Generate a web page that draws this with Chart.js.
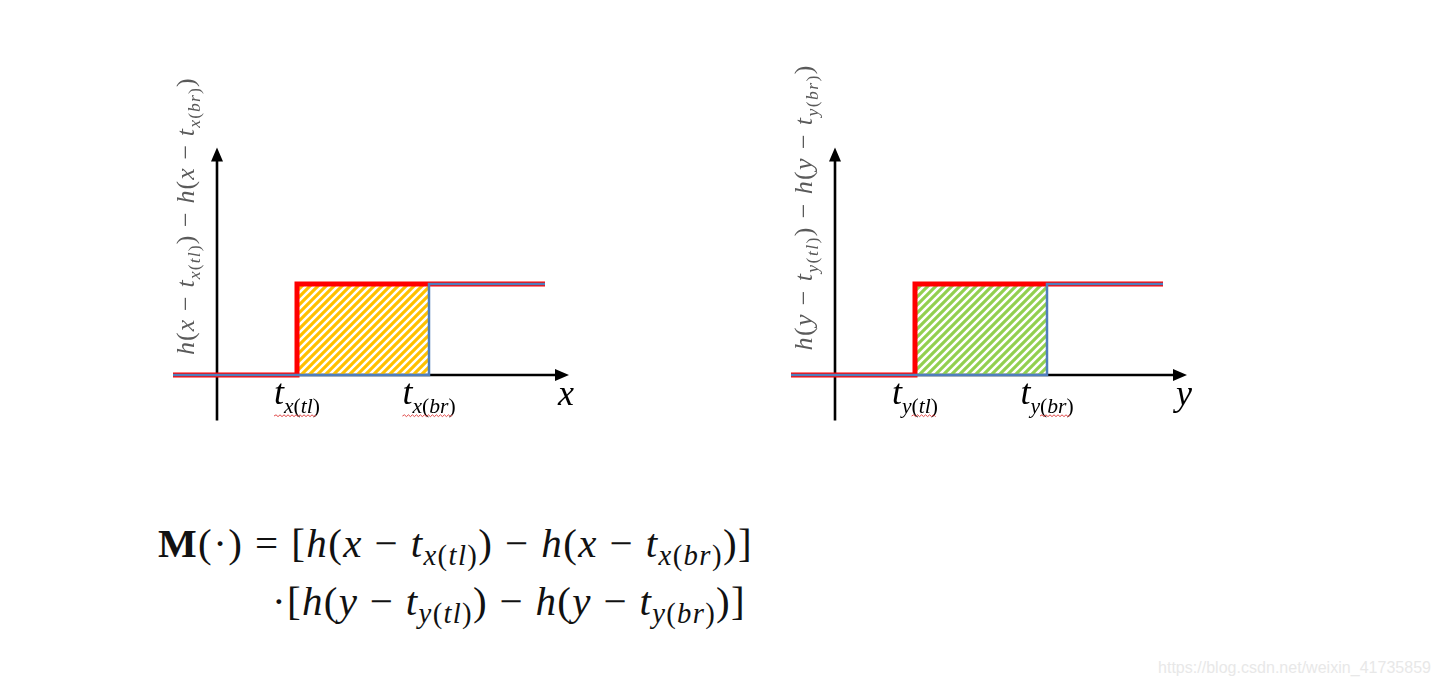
<!DOCTYPE html>
<html>
<head>
<meta charset="utf-8">
<script src="https://cdn.jsdelivr.net/npm/chart.js@4.4.1/dist/chart.umd.min.js"></script>
<style>
  html, body { margin: 0; padding: 0; background: #fff; }
  body { width: 1440px; height: 689px; overflow: hidden; position: relative; }
  canvas.step { position: absolute; top: 60px; }
  #chartX { left: 160px; }
  #chartY { left: 778px; }
  .formula { position: absolute; font-family: "Liberation Serif", "Times New Roman", serif; color: #111; white-space: nowrap; line-height: 1; font-size: 41px; }
  .formula i { font-style: italic; }
  .formula b { font-weight: bold; }
  .formula sub { font-size: 0.7em; vertical-align: -0.28em; line-height: 0; }
  #wm { position: absolute; font-family: "Liberation Sans", Arial, sans-serif; font-size: 16px; line-height: 1; color: #e8e8e8; white-space: nowrap; }
</style>
</head>
<body>
<canvas id="chartX" class="step" width="440" height="380"></canvas>
<canvas id="chartY" class="step" width="440" height="380"></canvas>

<div class="formula" id="line1"><b>M</b>(·) = [<i>h</i>(<i>x</i> − <i>t</i><sub><i>x</i>(<i>tl</i>)</sub>) − <i>h</i>(<i>x</i> − <i>t</i><sub><i>x</i>(<i>br</i>)</sub>)]</div>
<div class="formula" id="line2">·[<i>h</i>(<i>y</i> − <i>t</i><sub><i>y</i>(<i>tl</i>)</sub>) − <i>h</i>(<i>y</i> − <i>t</i><sub><i>y</i>(<i>br</i>)</sub>)]</div>
<div id="wm">https://blog.csdn.net/weixin_41735859</div>

<script>
// step positions (axis origin = 0, one unit = 40px)
const xStart = -1.1;
const xEnd = 8.2;
const tlValue = 2.0;
const brValue = 5.3;

const stepLevels = [0, 1, 1];
const redX = [xStart, tlValue, xEnd];
const blueX = [xStart, brValue, xEnd];
const hatchX = [tlValue, brValue];
const hatchY = [1, 1];

const axisXRange = [-1.1, 8.8];
const axisYRange = [-0.5, 2.5];

const tickValues = [tlValue, brValue];
const tickLabelsX = ['t_{x(tl)}', 't_{x(br)}'];
const tickLabelsY = ['t_{y(tl)}', 't_{y(br)}'];

const titleX = 'h(x − t_{x(tl)}) − h(x − t_{x(br)})';
const titleY = 'h(y − t_{y(tl)}) − h(y − t_{y(br)})';

const RED = '#ff0000';
const BLUE = '#4f7fbd';
const SERIF = '"Liberation Serif", "Times New Roman", serif';

function pts(xs, ys) {
  return xs.map((x, i) => ({ x: x, y: ys[i] }));
}

function hatchPattern(color) {
  const c = document.createElement('canvas');
  c.width = 8; c.height = 8;
  const g = c.getContext('2d');
  g.strokeStyle = color;
  g.lineWidth = 3.1;
  g.beginPath();
  g.moveTo(-4, 12); g.lineTo(12, -4);
  g.moveTo(-4, 4); g.lineTo(4, -4);
  g.moveTo(4, 12); g.lineTo(12, 4);
  g.stroke();
  return g.createPattern(c, 'repeat');
}

// tiny math text: letters italic, _{...} subscript
function parseMath(str) {
  const out = [];
  let sub = false;
  for (let i = 0; i < str.length; i++) {
    const c = str[i];
    if (c === '_' && str[i + 1] === '{') { sub = true; i++; continue; }
    if (c === '}' && sub) { sub = false; continue; }
    out.push({ c: c, sub: sub, it: /[a-z]/i.test(c) });
  }
  return out;
}

function mathFont(p, size, ratio) {
  const s = p.sub ? size * ratio : size;
  return (p.it ? 'italic ' : '') + s.toFixed(2) + 'px ' + SERIF;
}

function measureMath(ctx, parts, size, ratio) {
  let w = 0;
  parts.forEach(p => { ctx.font = mathFont(p, size, ratio); w += ctx.measureText(p.c).width; });
  return w;
}

function drawMath(ctx, parts, x, y, size, ratio, drop, gap) {
  let cx = x;
  const pos = [];
  parts.forEach(p => {
    ctx.font = mathFont(p, size, ratio);
    const w = ctx.measureText(p.c).width;
    ctx.fillText(p.c, cx, p.sub ? y + size * drop : y);
    pos.push(cx);
    cx += w + (gap || 0);
  });
  pos.push(cx);
  return pos;
}

function squiggle(ctx, x0, x1, y) {
  ctx.save();
  ctx.strokeStyle = '#e04848';
  ctx.lineWidth = 1;
  ctx.beginPath();
  let up = true;
  ctx.moveTo(x0, y);
  for (let x = x0 + 2; x <= x1; x += 2) {
    ctx.lineTo(x, up ? y - 1.2 : y + 0.6);
    up = !up;
  }
  ctx.stroke();
  ctx.restore();
}

const axesPlugin = {
  id: 'arrowAxes',
  beforeDatasetsDraw(chart) {
    const ctx = chart.ctx;
    const sx = chart.scales.x, sy = chart.scales.y;
    const ox = sx.getPixelForValue(0), oy = sy.getPixelForValue(0);
    const x0 = sx.getPixelForValue(axisXRange[0]), x1 = sx.getPixelForValue(axisXRange[1]);
    const y0 = sy.getPixelForValue(axisYRange[0]), y1 = sy.getPixelForValue(axisYRange[1]);
    const head = 14, half = 6;
    ctx.save();
    ctx.strokeStyle = '#000';
    ctx.fillStyle = '#000';
    ctx.lineWidth = 2.6;
    ctx.beginPath();
    ctx.moveTo(x0, oy); ctx.lineTo(x1 - head + 1, oy);
    ctx.moveTo(ox, y0); ctx.lineTo(ox, y1 + head - 1);
    ctx.stroke();
    ctx.beginPath();
    ctx.moveTo(x1, oy); ctx.lineTo(x1 - head, oy - half); ctx.lineTo(x1 - head, oy + half); ctx.closePath();
    ctx.moveTo(ox, y1); ctx.lineTo(ox - half, y1 + head); ctx.lineTo(ox + half, y1 + head); ctx.closePath();
    ctx.fill();
    ctx.restore();
  }
};

const labelsPlugin = {
  id: 'mathLabels',
  afterDatasetsDraw(chart, args, opts) {
    const ctx = chart.ctx;
    const sx = chart.scales.x, sy = chart.scales.y;
    const oy = sy.getPixelForValue(0);
    ctx.save();
    ctx.fillStyle = '#000';
    ctx.textBaseline = 'alphabetic';
    ctx.textAlign = 'left';

    // tick labels t_{x(tl)} ...
    const tSize = 36, tRatio = 0.6, tDrop = 0.24;
    opts.ticks.forEach((lab, i) => {
      const parts = parseMath(lab);
      const w = measureMath(ctx, parts, tSize, tRatio);
      const left = sx.getPixelForValue(tickValues[i]) - w / 2;
      const pos = drawMath(ctx, parts, left, oy + 29, tSize, tRatio, tDrop, 0);
      let k = parts.findIndex(p => p.c === opts.squiggleFrom);
      if (k < 0) k = 0;
      squiggle(ctx, pos[k], pos[pos.length - 1] - 2, oy + 41);
    });

    // axis name
    ctx.font = 'italic 36px ' + SERIF;
    ctx.textAlign = 'center';
    ctx.fillText(opts.axisName, sx.getPixelForValue(axisXRange[1]) - 3, oy + 30);
    ctx.textAlign = 'left';

    // rotated y title, fitted between two y values
    const parts = parseMath(opts.title);
    const size = 26, ratio = 0.68;
    const yStart = sy.getPixelForValue(opts.titleSpan[0]);
    const yEnd = sy.getPixelForValue(opts.titleSpan[1]);
    const natural = measureMath(ctx, parts, size, ratio);
    const gap = ((yStart - yEnd) - natural) / (parts.length - 1);
    ctx.fillStyle = '#5a5a5a';
    ctx.translate(sx.getPixelForValue(-0.58), yStart);
    ctx.rotate(-Math.PI / 2);
    drawMath(ctx, parts, 0, 0, size, ratio, 0.22, gap);
    ctx.restore();
  }
};

function makeChart(id, hatchColor, ticks, axisName, title, titleSpan, squiggleFrom) {
  return new Chart(document.getElementById(id), {
    type: 'line',
    data: {
      datasets: [
        { data: pts(blueX, stepLevels), borderColor: BLUE, borderWidth: 2.5, stepped: 'before',
          pointRadius: 0, fill: false, order: 0, borderCapStyle: 'butt', borderJoinStyle: 'miter' },
        { data: pts(redX, stepLevels), borderColor: RED, borderWidth: 5, stepped: 'before',
          pointRadius: 0, fill: false, order: 1, borderCapStyle: 'butt', borderJoinStyle: 'miter' },
        { data: pts(hatchX, hatchY), borderColor: 'transparent', borderWidth: 0,
          backgroundColor: hatchPattern(hatchColor), fill: 'origin', pointRadius: 0, order: 2 }
      ]
    },
    options: {
      responsive: false,
      animation: false,
      events: [],
      layout: { padding: 0 },
      scales: {
        x: { type: 'linear', min: -1.425, max: 9.575, display: false },
        y: { type: 'linear', min: -0.714, max: 3.4615, display: false }
      },
      plugins: {
        legend: { display: false },
        tooltip: { enabled: false },
        mathLabels: { ticks: ticks, axisName: axisName, title: title, titleSpan: titleSpan, squiggleFrom: squiggleFrom }
      }
    },
    plugins: [axesPlugin, labelsPlugin]
  });
}

makeChart('chartX', '#ffc000', tickLabelsX, 'x', titleX, [0.22, 3.26], 't');
makeChart('chartY', '#92d050', tickLabelsY, 'y', titleY, [0.27, 3.4], '(');

// place html text: fit width with letter spacing, put baseline where wanted
function place(id, left, right, baseline, ascentRatio) {
  const el = document.getElementById(id);
  const fs = parseFloat(getComputedStyle(el).fontSize);
  el.style.left = left + 'px';
  el.style.top = (baseline - fs * ascentRatio) + 'px';
  const n = el.textContent.length;
  const w = el.getBoundingClientRect().width;
  el.style.letterSpacing = ((right - left) - w) / n + 'px';
}
place('line1', 158, 753, 557, 0.8375);
place('line2', 272, 746, 615, 0.8375);
place('wm', 1158, 1431, 674, 0.86);
</script>
</body>
</html>
